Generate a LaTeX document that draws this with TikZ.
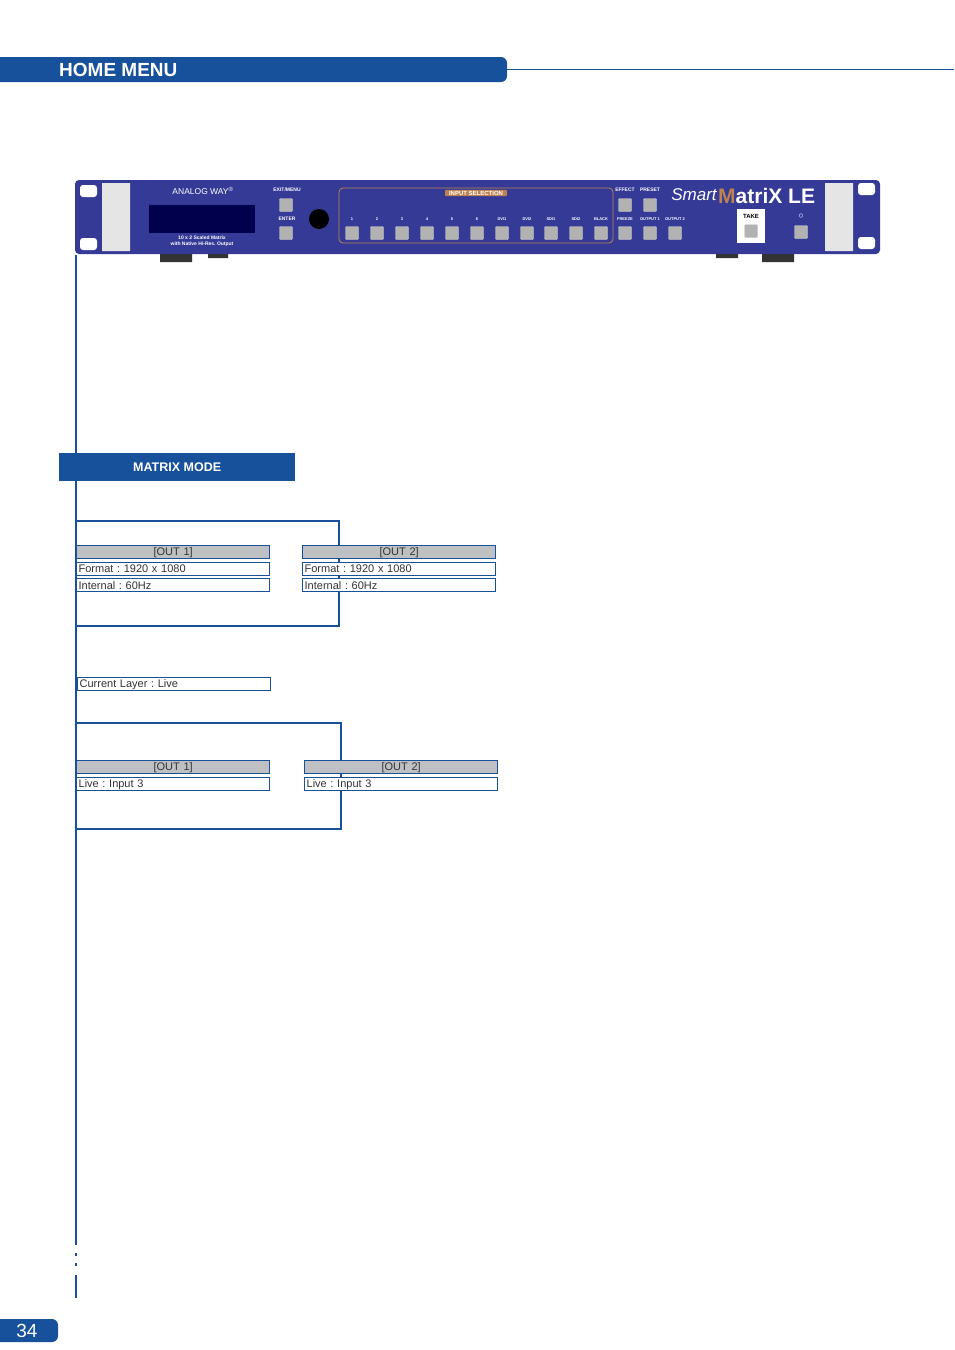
\documentclass[tikz,border=0pt]{standalone}
\usepackage{fontspec}
\setmainfont{Liberation Sans}
\frenchspacing
\definecolor{awblue}{RGB}{23,80,155}
\definecolor{panel}{RGB}{52,58,150}
\definecolor{boxgray}{RGB}{190,192,195}
\definecolor{selorange}{RGB}{190,130,80}
\begin{document}
\begin{tikzpicture}[x=1pt,y=-1pt]
    \tikzstyle{menubar}=[fill=awblue, rounded corners=6pt]
    \tikzstyle{line}=[draw=awblue, line width=1.2pt]
    \tikzstyle{field}=[draw=awblue, fill=white, line width=1.3pt, text width=189pt, minimum height=13pt,
                       inner xsep=2pt, inner ysep=0pt, font=\fontsize{11}{12}\selectfont, text=black!80, anchor=north west]
    \tikzstyle{head}=[field, fill=boxgray, align=center]
    \tikzstyle{btn}=[draw=gray!40, fill=gray!60, minimum size=13pt, inner sep=0pt, rounded corners=1pt]
    \tikzstyle{tiny}=[text=white, font=\fontsize{5}{5.5}\selectfont\bfseries, inner sep=0pt]
    \useasboundingbox (0,0) rectangle (954,1350);

    % header
    \fill[menubar] (-10,57) rectangle (507,82);
    \node[text=white, font=\bfseries\fontsize{19}{20}\selectfont, anchor=west, inner sep=0pt] (title) at (59,69.5) {HOME MENU};
    \draw[awblue, line width=0.8pt] (507,69) -- (954,69);

    % device
    \fill[black!80] (160,252) rectangle (192,262) (208,252) rectangle (228,258)
                    (716,252) rectangle (738,258) (762,252) rectangle (794,262);
    \fill[panel, rounded corners=4pt] (75,180) rectangle (880,254);
    \fill[gray!20] (102,183) rectangle (130,251) (825,183) rectangle (853,251);
    \fill[white, rounded corners=3pt] (80,185) rectangle (97,197) (80,238) rectangle (97,250)
                                      (858,183) rectangle (875,195) (858,237) rectangle (875,249);
    \fill[black!70!blue] (149,205) rectangle (255,233);
    \node[tiny, font=\fontsize{8.5}{9}\selectfont] (brand) at (203,191) {ANALOG WAY\textsuperscript{®}};
    \node[tiny, align=center] (spec) at (202,241) {10 x 2 Scaled Matrix\\with Native Hi-Res. Output};
    \draw[selorange, rounded corners=4pt, line width=0.8pt] (339,188) rectangle (613,243);
    \node[fill=selorange, rounded corners=1pt, tiny, font=\fontsize{6}{6}\selectfont\bfseries, inner xsep=4pt, inner ysep=1pt] (sel) at (476,193) {INPUT SELECTION};
    \fill[black] (319,219) circle (10pt);
    \fill[white] (737,209) rectangle (765,243);
    \node[font=\fontsize{6}{6}\selectfont\bfseries, text=black, inner sep=0pt] (take) at (751,216) {TAKE};
    \node[btn] (takebtn) at (751,231) {};
    \node[text=white, font=\itshape\fontsize{17}{17}\selectfont, inner sep=0pt] (smart) at (694,195) {Smart};
    \node[font=\bfseries\fontsize{21}{21}\selectfont, inner sep=0pt, anchor=west] (matrix) at (718,196)
        {\textcolor{selorange}{M}\textcolor{white}{atriX LE}};
    \node[btn] (exit) at (286,205) {};
    \node[tiny] at (287,190) {EXIT/MENU};
    \node[btn] (effect) at (625,205) {};
    \node[tiny] at (625,190) {EFFECT};
    \node[btn] (preset) at (650,205) {};
    \node[tiny] at (650,190) {PRESET};
    \node[btn] (enter) at (286,233) {};
    \node[tiny] at (287,219) {ENTER};
    \foreach \x/\t in {352/1,377/2,402/3,427/4,452/5,477/6,502/DVI1,527/DVI2,551/SDI1,576/SDI2,601/BLACK,625/FREEZE,650/OUTPUT 1,675/OUTPUT 2}{
        \node[btn] at (\x,233) {};
        \node[tiny, font=\fontsize{4}{4}\selectfont\bfseries] at (\x,219) {\t};
    }
    \node[btn] (power) at (801,232) {};
    \node[text=white, font=\fontsize{10}{10}\selectfont, inner sep=0pt] at (801,216) {$\circ$};

    % tree line
    \draw[line] (76,255) -- (76,1245);
    \draw[line] (76,1253) -- (76,1256) (76,1263) -- (76,1266) (76,1275) -- (76,1298);

    \node[fill=awblue, minimum width=236pt, minimum height=28pt, text=white,
          font=\bfseries\fontsize{12.5}{13}\selectfont, anchor=north west] (matrixmode) at (59,453) {MATRIX MODE};

    % outputs format
    \draw[line] (76,521) -- (339,521) -- (339,626) -- (76,626);
    \node[head] (fmtA) at (76,545) {[OUT 1]};
    \node[field] (fmtB) at (76,562) {Format : 1920 x 1080};
    \node[field] (fmtC) at (76,578) {Internal : 60Hz};
    \node[head] (fmtD) at (302,545) {[OUT 2]};
    \node[field] (fmtE) at (302,562) {Format : 1920 x 1080};
    \node[field] (fmtF) at (302,578) {Internal : 60Hz};
    \node[field] (layer) at (77,677) {Current Layer : Live};

    % outputs live
    \draw[line] (76,723) -- (341,723) -- (341,829) -- (76,829);
    \node[head] (liveA) at (76,760) {[OUT 1]};
    \node[field] (liveB) at (76,777) {Live : Input 3};
    \node[head] (liveC) at (304,760) {[OUT 2]};
    \node[field] (liveD) at (304,777) {Live : Input 3};

    % page number
    \fill[menubar] (-10,1319) rectangle (58,1342);
    \node[text=white, font=\fontsize{19}{20}\selectfont] (page) at (27,1330.5) {34};
\end{tikzpicture}
\end{document}
